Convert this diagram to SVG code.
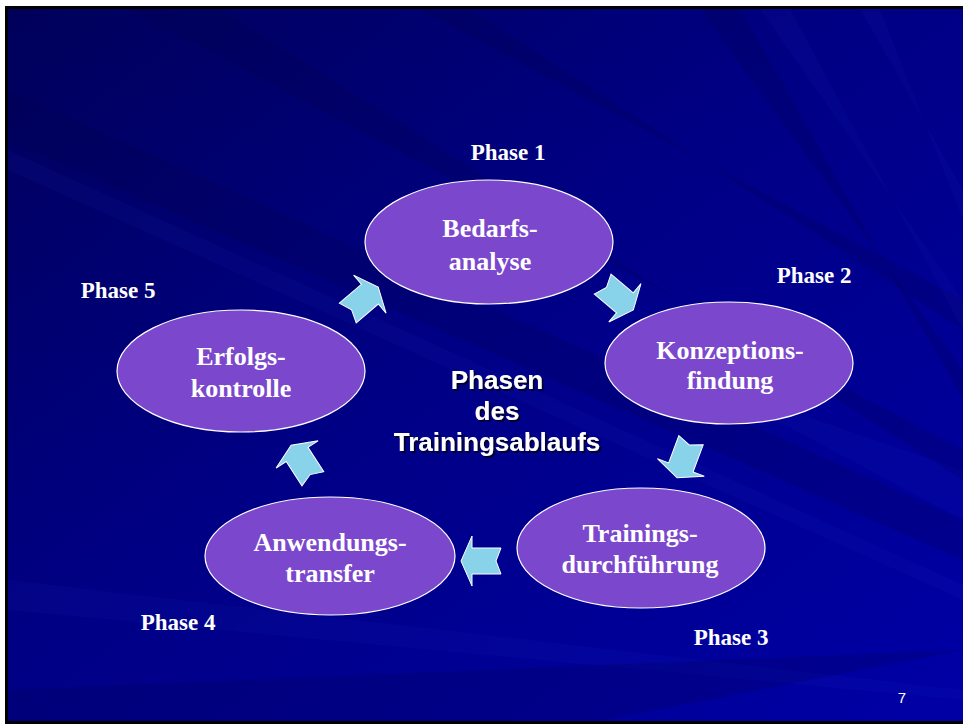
<svg xmlns="http://www.w3.org/2000/svg" width="963" height="725" viewBox="0 0 963 725">
<defs>
<linearGradient id="bg" x1="0" y1="0" x2="1" y2="1">
<stop offset="0" stop-color="#00005A"/>
<stop offset="0.45" stop-color="#000084"/>
<stop offset="1" stop-color="#0000A6"/>
</linearGradient>
<filter id="sh" x="-10%" y="-10%" width="120%" height="130%">
<feDropShadow dx="2" dy="2" stdDeviation="0.6" flood-color="#000020" flood-opacity="0.9"/>
</filter>
<polygon id="arrow" points="-20,-13 9,-13 9,-25 20,0 9,25 9,13 -20,13 -15,0"/>
</defs>
<style>
.node ellipse{fill:#7B47CC;stroke:#FFFFFF;stroke-width:1.2}
.lbl{font-family:"Liberation Serif","Times New Roman",serif;font-weight:bold;font-size:26px;fill:#FFFFFF;text-anchor:middle}
.ph{font-family:"Liberation Serif","Times New Roman",serif;font-weight:bold;font-size:23px;fill:#FFFFFF;text-anchor:middle}
.ttl{font-family:"Liberation Sans",Arial,sans-serif;font-weight:bold;font-size:26px;fill:#FFFFFF;text-anchor:middle}
.arr use{fill:#88D2EA;stroke:#FFFFFF;stroke-width:1}
.rayL{fill:#3040E0;opacity:0.06}
.rayD{fill:#000040;opacity:0.18}
</style>
<rect x="0" y="0" width="963" height="725" fill="#FFFFFF"/>
<rect x="6.5" y="7.5" width="960" height="715" fill="url(#bg)" stroke="#000000" stroke-width="3"/>
<g id="rays">
<polygon class="rayD" points="8,90 8,140 963,560 963,520"/>
<polygon class="rayL" points="8,150 8,170 963,600 963,585"/>
<polygon class="rayD" points="420,9 470,9 963,330 963,300"/>
<polygon class="rayL" points="760,9 790,9 963,330 963,300"/>
<polygon class="rayL" points="860,9 880,9 963,220 963,190"/>
<polygon class="rayD" points="700,9 740,9 963,400 963,370"/>
<polygon class="rayL" points="8,580 8,610 963,700 963,690"/>
<polygon class="rayD" points="8,690 8,721 600,721 963,650"/>
<polygon class="rayL" points="700,380 963,470 963,520"/>
<polygon class="rayD" points="130,9 220,9 963,480 963,450"/>
</g>
<g id="connectors" class="arr">
<use href="#arrow" transform="translate(363,300) rotate(-40.5)"/>
<use href="#arrow" transform="translate(618,297) rotate(40)"/>
<use href="#arrow" transform="translate(684,459) rotate(110.5)"/>
<use href="#arrow" transform="translate(481,561) rotate(180)"/>
<use href="#arrow" transform="translate(302,462) rotate(-123)"/>
</g>
<g id="node1" class="node">
<ellipse cx="489" cy="242" rx="124" ry="62"/>
<text class="lbl" x="490" y="237">Bedarfs-</text>
<text class="lbl" x="490" y="270">analyse</text>
</g>
<g id="node2" class="node">
<ellipse cx="729" cy="363" rx="124" ry="61"/>
<text class="lbl" x="730" y="359">Konzeptions-</text>
<text class="lbl" x="730" y="389">findung</text>
</g>
<g id="node3" class="node">
<ellipse cx="641" cy="548" rx="124" ry="60"/>
<text class="lbl" x="640" y="542">Trainings-</text>
<text class="lbl" x="640" y="573">durchführung</text>
</g>
<g id="node4" class="node">
<ellipse cx="330" cy="556" rx="125" ry="59"/>
<text class="lbl" x="330" y="551">Anwendungs-</text>
<text class="lbl" x="330" y="582">transfer</text>
</g>
<g id="node5" class="node">
<ellipse cx="241" cy="371" rx="124" ry="61"/>
<text class="lbl" x="241" y="365">Erfolgs-</text>
<text class="lbl" x="241" y="397">kontrolle</text>
</g>
<g id="phases">
<text class="ph" x="508" y="160">Phase 1</text>
<text class="ph" x="814" y="283">Phase 2</text>
<text class="ph" x="731" y="645">Phase 3</text>
<text class="ph" x="178" y="630">Phase 4</text>
<text class="ph" x="118" y="298">Phase 5</text>
</g>
<g id="title" filter="url(#sh)">
<text class="ttl" x="497" y="389">Phasen</text>
<text class="ttl" x="497" y="420">des</text>
<text class="ttl" x="497" y="451">Trainingsablaufs</text>
</g>
<text x="902" y="703" font-family="Liberation Sans, Arial, sans-serif" font-size="15" fill="#FFFFFF" text-anchor="middle">7</text>
</svg>
